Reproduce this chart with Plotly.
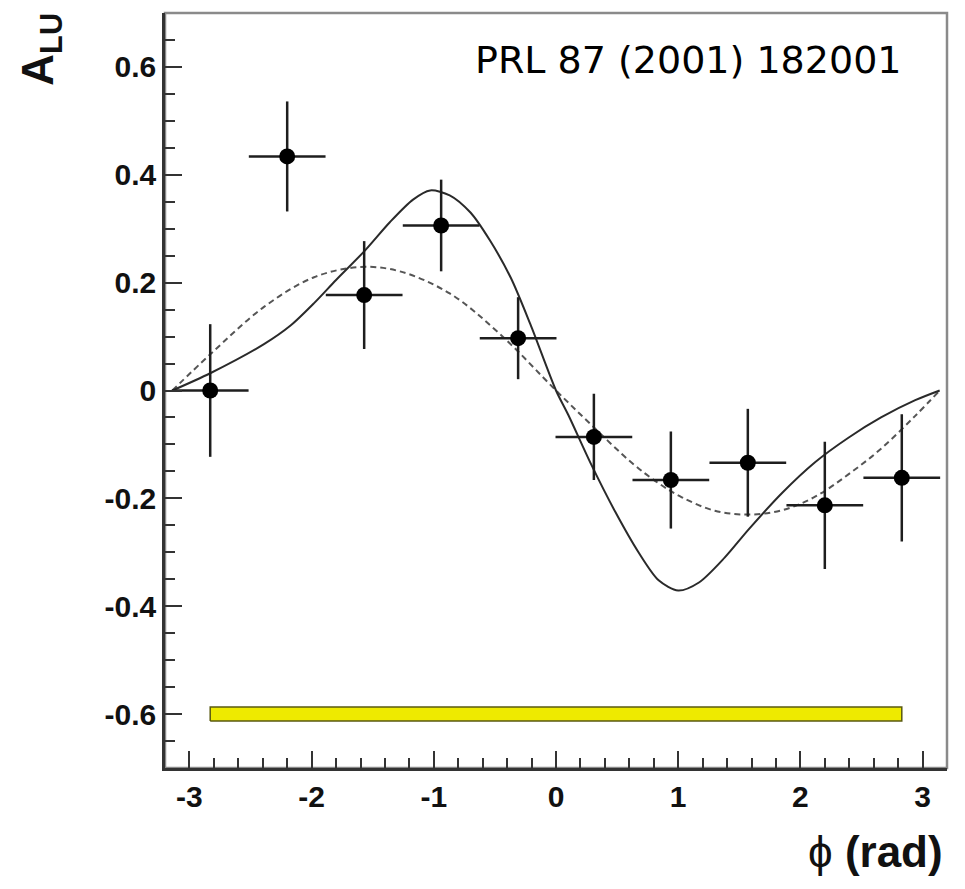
import plotly.graph_objects as go

# ---------------- data ----------------
phi_bins = [-2.83, -2.20, -1.57, -0.94, -0.31, 0.31, 0.94, 1.57, 2.20, 2.83]
a_lu = [0.000, 0.434, 0.177, 0.306, 0.097, -0.086, -0.166, -0.134, -0.213, -0.162]
a_lu_err = [0.123, 0.102, 0.100, 0.085, 0.076, 0.080, 0.090, 0.100, 0.118, 0.118]
phi_halfwidth = [0.314] * 10

# systematic-uncertainty band (drawn at A = -0.6)
sys_x = [-2.83, 2.83]
sys_center = -0.6
sys_half = 0.013

# solid theory curve
solid_phi = [-3.14, -2.83, -2.39, -2.17, -1.98, -1.80, -1.57, -1.36, -1.17, -1.03,
             -0.87, -0.70, -0.54, -0.37, -0.21, 0.0, 0.10, 0.29, 0.485, 0.675,
             0.84, 1.0, 1.17, 1.38, 1.575, 1.85, 2.12, 2.39, 2.66, 2.94, 3.14]
solid_a = [0.0, 0.032, 0.086, 0.121, 0.162, 0.205, 0.258, 0.312, 0.354, 0.371,
           0.362, 0.330, 0.278, 0.209, 0.123, 0.0, -0.045, -0.138, -0.225, -0.300,
           -0.352, -0.371, -0.356, -0.310, -0.258, -0.190, -0.133, -0.088, -0.050, -0.018, 0.0]

# dashed fit curve
dash_phi = [-3.14, -2.83, -2.39, -1.98, -1.60, -1.28, -0.87, -0.46, 0.0, 0.29, 0.62,
            0.84, 1.03, 1.30, 1.575, 1.85, 2.12, 2.39, 2.66, 2.94, 3.14]
dash_a = [0.0, 0.067, 0.155, 0.210, 0.229, 0.221, 0.180, 0.105, 0.0, -0.064, -0.134,
          -0.172, -0.198, -0.223, -0.230, -0.222, -0.197, -0.156, -0.108, -0.047, 0.0]

x_tickvals = [-3, -2, -1, 0, 1, 2, 3]
x_ticktext = ["-3", "-2", "-1", "0", "1", "2", "3"]
y_tickvals = [-0.6, -0.4, -0.2, 0, 0.2, 0.4, 0.6]
y_ticktext = ["-0.6", "-0.4", "-0.2", "0", "0.2", "0.4", "0.6"]

# ---------------- figure ----------------
fig = go.Figure()

band_x = [sys_x[0], sys_x[1], sys_x[1], sys_x[0], sys_x[0]]
band_y = [sys_center - sys_half, sys_center - sys_half, sys_center + sys_half,
          sys_center + sys_half, sys_center - sys_half]
fig.add_trace(go.Scatter(x=band_x, y=band_y, mode="lines", fill="toself",
                         fillcolor="#eeea00", line=dict(color="#5a5a10", width=1.5),
                         hoverinfo="skip", showlegend=False))

fig.add_trace(go.Scatter(x=dash_phi, y=dash_a, mode="lines",
                         line=dict(color="#555555", width=2, dash="6px,4px", shape="spline"),
                         showlegend=False))
fig.add_trace(go.Scatter(x=solid_phi, y=solid_a, mode="lines",
                         line=dict(color="#2a2a2a", width=2, shape="spline", smoothing=0.8),
                         showlegend=False))

fig.add_trace(go.Scatter(
    x=phi_bins, y=a_lu, mode="markers",
    marker=dict(color="black", size=16),
    error_y=dict(type="data", array=a_lu_err, visible=True, color="#1e1e1e",
                 thickness=2.5, width=0),
    error_x=dict(type="data", array=phi_halfwidth, visible=True, color="#1e1e1e",
                 thickness=2.5, width=0),
    showlegend=False))

tickfont = dict(family="Liberation Sans, Arial, sans-serif", size=30, color="#111111",
                weight="bold")

fig.update_xaxes(range=[-3.2, 3.2], tickvals=x_tickvals, ticktext=x_ticktext,
                 ticks="inside", ticklen=17, tickwidth=2, tickcolor="#333333",
                 showline=True, linecolor="#333333", linewidth=2.5, mirror=False,
                 showgrid=False, zeroline=False, tickfont=tickfont,
                 minor=dict(ticks="inside", ticklen=10, tickwidth=2, dtick=0.2,
                            tick0=0, tickcolor="#333333", showgrid=False))
fig.update_yaxes(range=[-0.7, 0.7], tickvals=y_tickvals, ticktext=y_ticktext,
                 ticks="inside", ticklen=17, tickwidth=2, tickcolor="#333333",
                 showline=True, linecolor="#333333", linewidth=2.5, mirror=False,
                 showgrid=False, zeroline=False, tickfont=tickfont,
                 minor=dict(ticks="inside", ticklen=10, tickwidth=2, dtick=0.05,
                            tick0=0, tickcolor="#333333", showgrid=False))

fig.update_layout(
    width=965, height=889,
    margin=dict(l=165, r=18, t=13, b=121),
    plot_bgcolor="white", paper_bgcolor="white",
    shapes=[dict(type="rect", xref="paper", yref="paper", x0=0, y0=0, x1=1, y1=1,
                 line=dict(color="#8a8a8a", width=2.5), layer="below")],
    annotations=[
        dict(text="PRL 87 (2001) 182001", xref="paper", yref="paper",
             x=0.945, y=0.938, xanchor="right", yanchor="middle", showarrow=False,
             font=dict(family="DejaVu Sans", size=38, color="black")),
        dict(text="<b>A<sub>LU</sub></b>", xref="paper", yref="paper",
             x=-0.158, y=0.952, xanchor="center", yanchor="middle", showarrow=False,
             textangle=-90,
             font=dict(family="Liberation Sans, Arial, sans-serif", size=44, color="#111111")),
        dict(text="ϕ <b>(rad)</b>", xref="paper", yref="paper",
             x=0.9974, y=-0.076, xanchor="right", yanchor="top", showarrow=False,
             font=dict(family="Liberation Sans, Arial, sans-serif", size=44, color="#111111")),
    ],
)

fig.write_html("out.html")
